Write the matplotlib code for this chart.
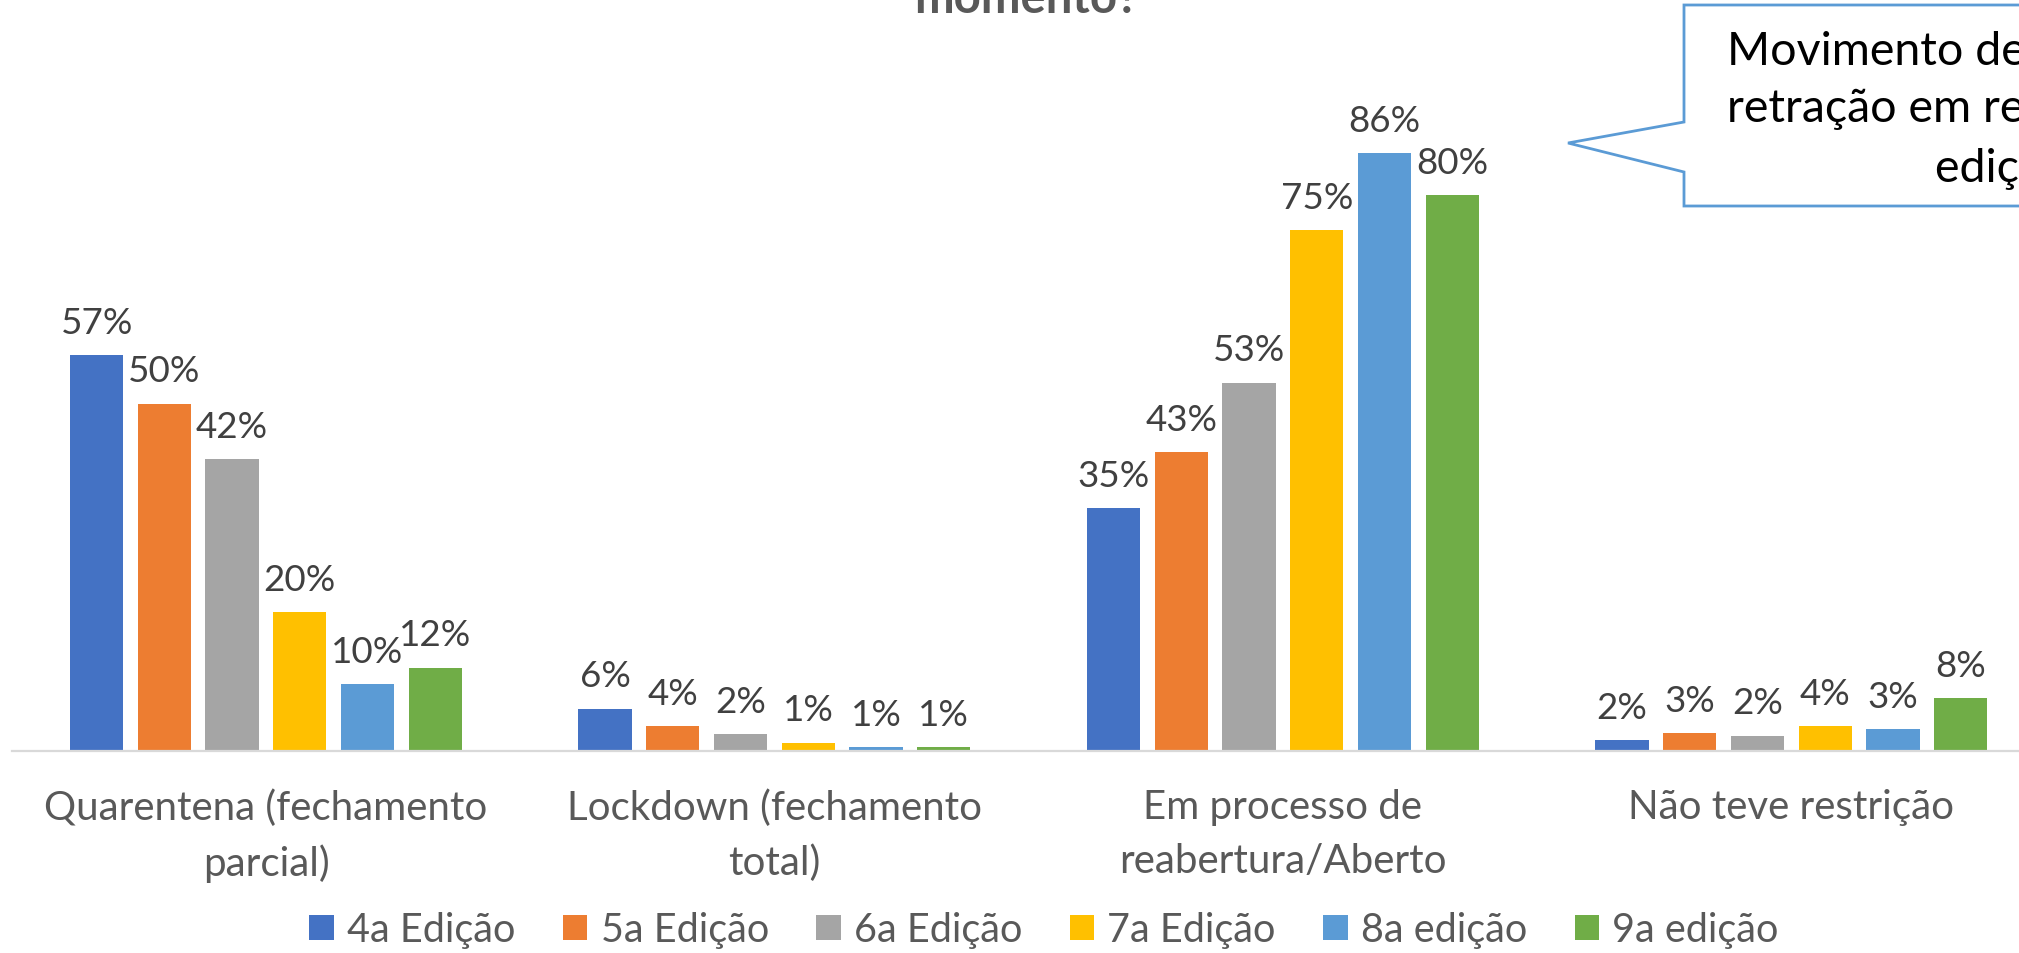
import matplotlib
matplotlib.use('Agg')
import matplotlib.pyplot as plt
from matplotlib.patches import Polygon
import numpy as np

plt.rcParams['font.family'] = ['Lato', 'DejaVu Sans']

# ── dados ────────────────────────────────────────────────
categorias = ['Quarentena (fechamento\nparcial)', 'Lockdown (fechamento\ntotal)',
              'Em processo de\nreabertura/Aberto', 'Não teve restrição']
edicoes = ['4a Edição', '5a Edição', '6a Edição', '7a Edição', '8a edição', '9a edição']
ed4 = [57, 6.1, 35, 1.6]
ed5 = [50, 3.6, 43, 2.6]
ed6 = [42, 2.4, 53, 2.2]
ed7 = [20, 1.2, 75, 3.6]
ed8 = [9.6, 0.6, 86, 3.2]
ed9 = [12, 0.55, 80, 7.6]
series = [ed4, ed5, ed6, ed7, ed8, ed9]
cores = ['#4472C4', '#ED7D31', '#A5A5A5', '#FFC000', '#5B9BD5', '#70AD47']

W, H = 2019, 954
fig = plt.figure(figsize=(W / 100, H / 100), dpi=100)

def fx(px):
    return px / W

def fy(py):
    return 1 - py / H

ax = fig.add_axes([fx(11.7), fy(752), 2034 / W, 695 / H])
x = np.arange(len(categorias))
pitch, width = 0.1332, 0.1048
bars = []
for k, (vals, cor, nome) in enumerate(zip(series, cores, edicoes)):
    b = ax.bar(x + (k - 2.5) * pitch, vals, width=width, color=cor, label=nome, zorder=2)
    bars.append(b)
    for rect, v in zip(b, vals):
        ax.annotate(f'{v:.0f}%', (rect.get_x() + rect.get_width() / 2, rect.get_height()),
                    xytext=(0, 16), textcoords='offset points', ha='center', va='baseline',
                    fontsize=26.5, color='#404040')

ax.set_xlim(-0.5, 3.5)
ax.set_ylim(0, 100)
ax.set_yticks([])
ax.set_xticks(x)
ax.set_xticklabels(categorias, fontsize=29, color='#595959', linespacing=1.55)
ax.tick_params(axis='x', length=0, pad=27)
for s in ['top', 'right', 'left']:
    ax.spines[s].set_visible(False)
ax.spines['bottom'].set_color('#D9D9D9')
ax.spines['bottom'].set_linewidth(1.6)
ax.spines['bottom'].set_zorder(3)

fig.legend(handles=bars, labels=edicoes, loc='center', bbox_to_anchor=(fx(1044), fy(931)),
           ncol=6, frameon=False, fontsize=28.5, handlelength=0.62, handleheight=0.62,
           handletextpad=0.33, columnspacing=1.2, labelcolor='#595959')

# título (cortado no topo)
fig.text(fx(1027), fy(13), 'momento?', ha='center', va='baseline', fontsize=34,
         fontweight='bold', color='#595959')

# balão de destaque (cortado à direita)
balao = [(1684, 6), (2300, 6), (2300, 207), (1684, 207), (1684, 173), (1568, 144), (1684, 123)]
fig.patches.append(Polygon([(fx(a), fy(b)) for a, b in balao], closed=True,
                           transform=fig.transFigure, facecolor='white',
                           edgecolor='#5B9BD5', linewidth=2, zorder=5))
for txt, px, py in [('Movimento de reabertura', 1727, 65),
                    ('retração em relação à', 1727, 122),
                    ('edição anterior', 1935, 182)]:
    fig.text(fx(px), fy(py), txt, ha='left', va='baseline', fontsize=33.5,
             color='black', zorder=6)

fig.savefig('out.png', dpi=100)
